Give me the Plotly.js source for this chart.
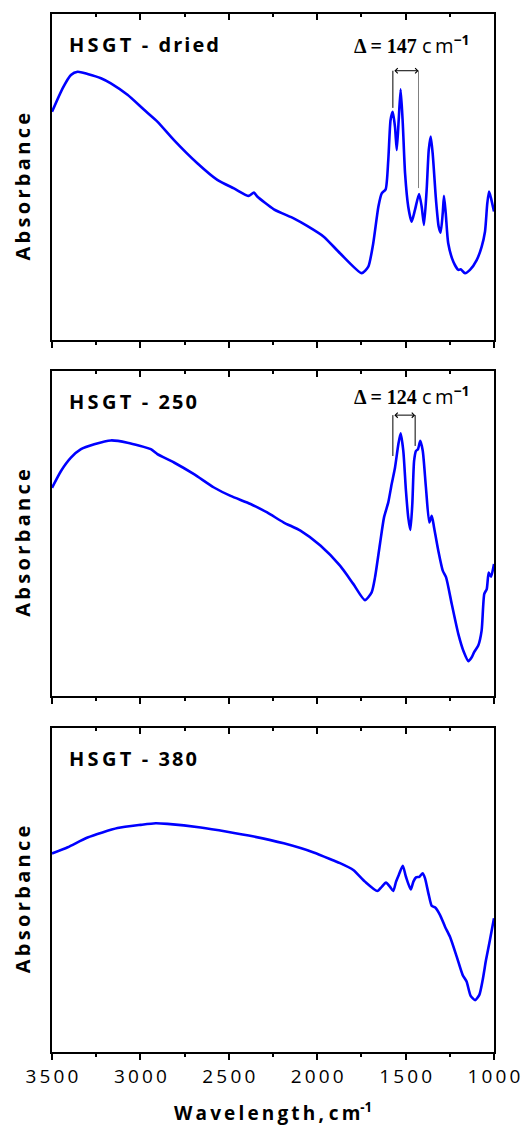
<!DOCTYPE html>
<html>
<head>
<meta charset="utf-8">
<script src="https://cdn.plot.ly/plotly-3.0.1.min.js"></script>
<style>html,body{margin:0;padding:0;background:#fff;}</style>
</head>
<body>
<div id="chart" style="width:523px;height:1125px;"></div>
<script>
// ---------- DATA ----------
const panelLabels = ['HSGT - dried', 'HSGT - 250', 'HSGT - 380'];

const wnDried = [3500,3440,3393,3355,3299,3223,3167,3073,2979,2904,2810,2678,2565,2471,2387,2358,2339,2245,2133,2057,1963,1871,
  1748,1711,1683,1654,1635,1613,1598,1585,1573,1560,1550,1539,1528,1516,1503,1485,1466,1447,1424,1409,1396,1381,1369,1358,1347,
  1328,1313,1302,1290,1283,1273,1259,1230,1202,1188,1164,1136,1098,1070,1051,1038,1028,1017,1000];
const absDried = [0.700,0.772,0.813,0.823,0.816,0.803,0.787,0.752,0.706,0.670,0.613,0.542,0.491,0.465,0.442,0.452,0.440,0.401,0.373,0.350,0.317,0.266,
  0.205,0.225,0.297,0.409,0.450,0.462,0.552,0.675,0.700,0.654,0.583,0.675,0.769,0.665,0.511,0.409,0.363,0.399,0.448,0.409,0.353,0.460,0.583,0.624,0.573,
  0.429,0.348,0.329,0.389,0.442,0.389,0.297,0.240,0.215,0.217,0.205,0.215,0.245,0.286,0.332,0.419,0.455,0.435,0.394];

const wn250 = [3500,3449,3393,3336,3261,3167,3073,2941,2904,2810,2697,2584,2490,2377,2283,2189,2095,1982,1871,1796,1730,1692,1673,1645,
  1622,1598,1579,1560,1541,1528,1513,1498,1485,1473,1462,1452,1441,1430,1417,1403,1385,1366,1352,1339,1315,1290,1271,1239,1202,1170,
  1145,1126,1113,1089,1070,1055,1041,1030,1017,1000];
const abs250 = [0.640,0.692,0.733,0.759,0.774,0.786,0.779,0.759,0.744,0.718,0.682,0.641,0.615,0.590,0.564,0.533,0.508,0.462,0.400,0.344,0.294,0.318,0.364,0.467,
  0.549,0.595,0.651,0.702,0.774,0.808,0.754,0.631,0.549,0.510,0.590,0.723,0.754,0.759,0.785,0.754,0.641,0.533,0.554,0.518,0.446,0.385,0.364,0.282,0.190,0.133,
  0.106,0.118,0.133,0.154,0.200,0.313,0.328,0.379,0.366,0.405];

const wn380 = [3500,3411,3299,3129,2998,2913,2847,2659,2509,2358,2189,2020,1907,1871,1796,1730,1660,1635,1611,1588,1570,1554,1536,1516,1498,
  1471,1456,1441,1422,1403,1390,1371,1352,1334,1305,1277,1249,1211,1177,1155,1132,1107,1083,1064,1045,1023,1000];
const abs380 = [0.612,0.631,0.661,0.690,0.700,0.705,0.703,0.692,0.679,0.664,0.643,0.615,0.590,0.582,0.561,0.525,0.496,0.509,0.522,0.509,0.496,0.525,0.549,0.574,0.540,
  0.501,0.525,0.538,0.540,0.551,0.535,0.489,0.450,0.446,0.422,0.386,0.355,0.294,0.237,0.217,0.173,0.160,0.176,0.222,0.284,0.345,0.412];

const tickValues = [3500, 3000, 2500, 2000, 1500, 1000];
const tickLabels = ['3500', '3000', '2500', '2000', '1500', '1000'];

// splitting of the carboxylate bands (panels 1 and 2)
const deltaValues = [147, 124];
const bandHigh = [1572, 1572];
const bandLow = [1427, 1446];
const bracketTop = [0.826, 0.864];
const bracketFootHigh = [0.712, 0.738];
const bracketFootLow = [0.466, 0.769];
const bracketLowColor = ['#808080', '#000000'];

// ---------- BUILD ----------
const spaced = s => s.split('').join('\u2009');
const SANS = 'Open Sans, DejaVu Sans, sans-serif';
const NB = '\u00a0';

const series = [[wnDried, absDried], [wn250, abs250], [wn380, abs380]];
const traces = [];
series.forEach((s, i) => {
  const n = i === 0 ? '' : String(i + 1);
  traces.push({
    x: s[0], y: s[1], xaxis: 'x' + n, yaxis: 'y' + n, type: 'scatter', mode: 'lines',
    line: {color: '#0000FF', width: 2.6, shape: 'spline', smoothing: 0.6}, showlegend: false, hoverinfo: 'skip'
  });
  traces.push({x: [], y: [], xaxis: 'x' + (i + 4), yaxis: 'y' + n, type: 'scatter', mode: 'lines',
    showlegend: false, hoverinfo: 'skip'});
});

const H = 1125, T = 14, B = 73, plotH = H - T - B;
const toPaper = px => (H - B - px) / plotH;
const domains = [[toPaper(340), 1], [toPaper(695.5), toPaper(371)], [0, toPaper(727.5)]];

const layout = {
  width: 523, height: 1125,
  margin: {l: 52, r: 29, t: T, b: B},
  paper_bgcolor: '#fff', plot_bgcolor: '#fff',
  showlegend: false,
  annotations: [], shapes: []
};

const labelText = s => {
  const parts = s.split(' - ');
  return spaced(parts[0]) + NB + NB + '-' + NB + NB + parts[1].split('').join('\u200a');
};

domains.forEach((d, i) => {
  const n = i === 0 ? '' : String(i + 1);
  layout['xaxis' + n] = {
    range: [3500, 1000], anchor: 'y' + n, domain: [0, 1],
    showline: true, linecolor: '#000', linewidth: 2, mirror: true,
    showgrid: false, zeroline: false,
    ticks: 'outside', ticklen: 6, tickwidth: 2, tickcolor: '#000',
    tickvals: tickValues, ticktext: tickLabels.map(spaced),
    showticklabels: i === 2,
    tickfont: {family: SANS, size: 19, color: '#000'},
    minor: {dtick: 250, tick0: 1000, ticks: 'outside', ticklen: 3, tickwidth: 2, tickcolor: '#000', showgrid: false}
  };
  layout['xaxis' + (i + 4)] = {
    range: [3500, 1000], overlaying: 'x' + n, anchor: 'y' + n, side: 'top',
    showline: false, showgrid: false, zeroline: false,
    ticks: 'inside', ticklen: 6, tickwidth: 2, tickcolor: '#000',
    tickvals: tickValues, showticklabels: false,
    minor: {dtick: 250, tick0: 1000, ticks: 'inside', ticklen: 3, tickwidth: 2, tickcolor: '#000', showgrid: false}
  };
  layout['yaxis' + n] = {
    range: [0, 1], domain: d, anchor: 'x' + n,
    showline: true, linecolor: '#000', linewidth: 2, mirror: true,
    showgrid: false, zeroline: false, ticks: '', showticklabels: false
  };
  // panel label
  layout.annotations.push({
    text: '<b>' + labelText(panelLabels[i]) + '</b>',
    xref: 'x' + n + ' domain', yref: 'y' + n + ' domain', x: 0.034, y: 0.905,
    xanchor: 'left', yanchor: 'middle', showarrow: false,
    font: {family: SANS, size: 20, color: '#000'}
  });
  // y title
  layout.annotations.push({
    text: '<b>' + spaced('Absorbance') + '</b>', textangle: -90,
    xref: 'paper', yref: 'y' + n + ' domain', x: -0.066, y: 0.47,
    xanchor: 'center', yanchor: 'middle', showarrow: false,
    font: {family: SANS, size: 20, color: '#000'}
  });
});

// x title
layout.annotations.push({
  text: '<b>' + spaced('Wavelength,') + NB + spaced('cm') + '<sup>-1</sup></b>',
  xref: 'paper', yref: 'paper', x: 0.5, y: toPaper(1112),
  xanchor: 'center', yanchor: 'middle', showarrow: false,
  font: {family: SANS, size: 19, color: '#000'}
});

// delta brackets
deltaValues.forEach((dv, i) => {
  const n = i === 0 ? '' : String(i + 1);
  layout.shapes.push({type: 'line', xref: 'x' + n, yref: 'y' + n,
    x0: bandHigh[i], x1: bandHigh[i], y0: bracketFootHigh[i], y1: bracketTop[i],
    line: {color: '#000', width: 1}});
  layout.shapes.push({type: 'line', xref: 'x' + n, yref: 'y' + n,
    x0: bandLow[i], x1: bandLow[i], y0: bracketFootLow[i], y1: bracketTop[i],
    line: {color: bracketLowColor[i], width: 1}});
  layout.annotations.push({
    text: '', xref: 'x' + n, yref: 'y' + n, axref: 'x' + n, ayref: 'y' + n,
    x: bandLow[i], y: bracketTop[i], ax: bandHigh[i], ay: bracketTop[i],
    showarrow: true, arrowside: 'end+start', arrowhead: 4, startarrowhead: 4,
    arrowsize: 1, startarrowsize: 1, arrowwidth: 1, arrowcolor: '#000', standoff: 0, startstandoff: 0
  });
  layout.annotations.push({
    text: '<span style="font-family:Liberation Serif;font-weight:bold">Δ = ' + dv + '</span> ' + spaced('cm') + '<sup><b>−1</b></sup>',
    xref: 'x' + n + ' domain', yref: 'y' + n + ' domain', x: 0.813, y: i === 0 ? 0.905 : 0.926,
    xanchor: 'center', yanchor: 'middle', showarrow: false,
    font: {family: SANS, size: 20, color: '#000'}
  });
});

Plotly.newPlot('chart', traces, layout, {staticPlot: true, displayModeBar: false});
</script>
</body>
</html>
